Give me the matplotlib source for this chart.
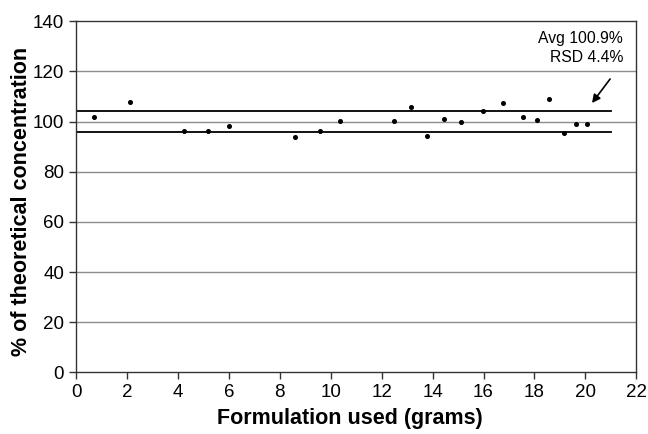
import matplotlib
matplotlib.use("Agg")
import matplotlib.pyplot as plt

plt.rcParams['font.family'] = ['Liberation Sans', 'DejaVu Sans']

# formulation used (grams) and measured % of theoretical concentration
grams = [0.69, 2.13, 4.25, 5.19, 5.99, 8.61, 9.59, 10.37, 12.5, 13.17, 13.78,
         14.45, 15.13, 15.99, 16.78, 17.55, 18.11, 18.58, 19.15, 19.63, 20.05]
percent = [101.7, 108.0, 96.2, 96.4, 98.1, 93.8, 96.2, 100.1, 100.4, 105.7, 94.1,
           101.0, 100.0, 104.2, 107.6, 101.7, 100.8, 108.9, 95.4, 99.0, 99.0]

# limit lines (avg +/- rsd)
limit_x = [0, 21]
upper_limit = 104.4
lower_limit = 95.7

xticks = list(range(0, 23, 2))
yticks = list(range(0, 141, 20))

fig = plt.figure(figsize=(6.48, 4.34), dpi=100)
ax = fig.add_axes([0.1173, 0.1422, 0.8647, 0.8087])

# gray gridlines
for y in yticks[1:-1]:
    ax.axhline(y, color='#8c8c8c', lw=1.0, zorder=1)

ax.plot(limit_x, [upper_limit, upper_limit], color='black', lw=1.3, zorder=2)
ax.plot(limit_x, [lower_limit, lower_limit], color='black', lw=1.3, zorder=2)

ax.plot(grams, percent, 'o', color='black', markersize=2.6, zorder=3)

ax.set_xlim(0, 22)
ax.set_ylim(0, 140)
ax.set_xticks(xticks)
ax.set_yticks(yticks)
ax.tick_params(axis='both', direction='out', length=5, width=1, labelsize=13.5,
               color='#333333')
for s in ax.spines.values():
    s.set_color('#333333')
    s.set_linewidth(1.0)

ax.set_xlabel('Formulation used (grams)', fontsize=15.5, fontweight='bold', va='center')
ax.set_ylabel('% of theoretical concentration', fontsize=15.5, fontweight='bold', va='center')
ax.xaxis.set_label_coords(0.489, -0.133)
ax.yaxis.set_label_coords(-0.0964, 0.487)

ax.text(21.48, 133.3, 'Avg 100.9%', ha='right', va='center', fontsize=11.3)
ax.text(21.48, 125.4, 'RSD 4.4%', ha='right', va='center', fontsize=11.3)
ax.annotate('', xy=(20.26, 107.4), xytext=(20.97, 117),
            arrowprops=dict(arrowstyle='-|>', color='black', lw=1.2,
                            mutation_scale=12, shrinkA=0, shrinkB=0))

fig.savefig('out.png', dpi=100)
